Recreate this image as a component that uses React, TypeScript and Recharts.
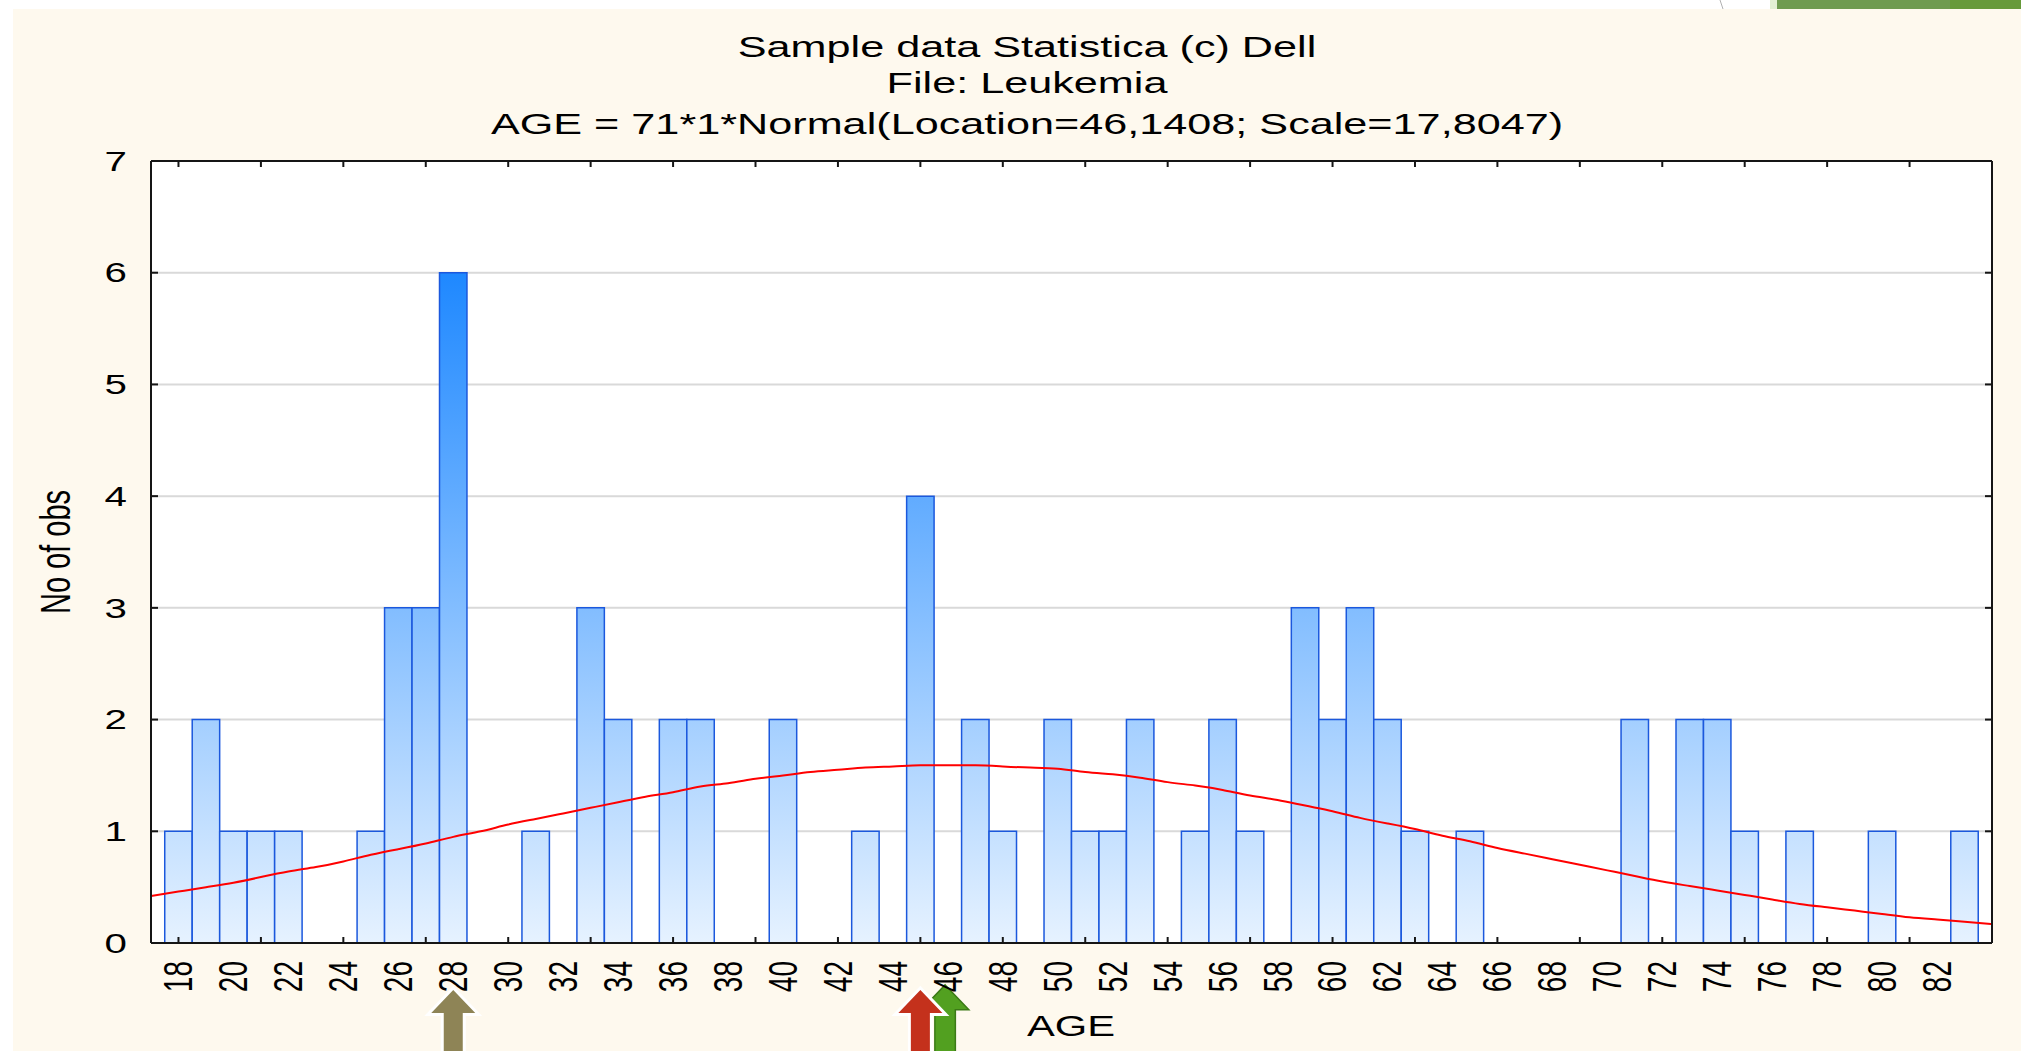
import React from 'react';
import { ComposedChart, Bar, Line, XAxis, YAxis, CartesianGrid, ReferenceDot } from 'recharts';

// ages 17..84 (one bin per year)
const AGES = [
  17, 18, 19, 20, 21, 22, 23, 24, 25, 26,
  27, 28, 29, 30, 31, 32, 33, 34, 35, 36,
  37, 38, 39, 40, 41, 42, 43, 44, 45, 46,
  47, 48, 49, 50, 51, 52, 53, 54, 55, 56,
  57, 58, 59, 60, 61, 62, 63, 64, 65, 66,
  67, 68, 69, 70, 71, 72, 73, 74, 75, 76,
  77, 78, 79, 80, 81, 82, 83, 84,
];

// No of obs per age
const COUNTS = [
  0, 1, 2, 1, 1, 1, 0, 0, 1, 3,
  3, 6, 0, 0, 1, 0, 3, 2, 0, 2,
  2, 0, 0, 2, 0, 0, 1, 0, 4, 0,
  2, 1, 0, 2, 1, 1, 2, 0, 1, 2,
  1, 0, 3, 2, 3, 2, 1, 0, 1, 0,
  0, 0, 0, 0, 2, 0, 2, 2, 1, 0,
  1, 0, 0, 1, 0, 0, 1, 0,
];

// red fitted normal curve
const FIT = [
  0.42, 0.46, 0.5, 0.54, 0.59, 0.64, 0.68, 0.73, 0.79, 0.84,
  0.89, 0.95, 1.0, 1.06, 1.11, 1.16, 1.21, 1.26, 1.31, 1.35,
  1.4, 1.43, 1.47, 1.5, 1.53, 1.55, 1.57, 1.58, 1.59, 1.59,
  1.59, 1.58, 1.57, 1.56, 1.53, 1.51, 1.48, 1.44, 1.41, 1.37,
  1.32, 1.28, 1.23, 1.18, 1.12, 1.07, 1.02, 0.96, 0.91, 0.85,
  0.8, 0.75, 0.7, 0.65, 0.6, 0.55, 0.51, 0.47, 0.43, 0.39,
  0.35, 0.32, 0.29, 0.26, 0.23, 0.21, 0.19, 0.17,
];

const LABEL_TICKS = [18, 20, 22, 24, 26, 28, 30, 32, 34, 36, 38, 40, 42, 44, 46, 48, 50, 52, 54, 56, 58, 60, 62, 64, 66, 68, 70, 72, 74, 76, 78, 80, 82];
const MARK_TICKS = [18, 21, 24, 27, 30, 33, 36, 39, 42, 45, 48, 51, 54, 57, 60, 63, 66, 69, 72, 75, 78, 81];
const Y_TICKS = [0, 1, 2, 3, 4, 5, 6, 7];

// slide arrows under the axis (mode, mean, median)
const MARKER_AGES = [28, 45.9, 45];
const MARKER_COLORS = ['#8E8456', '#52A020', '#C4311C'];
const MARKER_EDGES = ['#FFFFFF', '#3B7A16', '#FFFFFF'];

const TITLE_LINES = [
  'Sample data Statistica (c) Dell',
  'File: Leukemia',
  'AGE = 71*1*Normal(Location=46,1408; Scale=17,8047)',
];

const FONT = '"Liberation Sans", Arial, sans-serif';
const FRAME = '#151515';
const STRETCH = 1.44;

const data = AGES.map((age, i) => ({ age, count: COUNTS[i], fit: FIT[i] }));
const X_TICKS = Array.from(new Set([...LABEL_TICKS, ...MARK_TICKS])).sort((a, b) => a - b);

const BottomTick = (props: any) => {
  const { x, y, payload } = props;
  const v = payload.value;
  return (
    <g>
      {MARK_TICKS.includes(v) && <line x1={x} y1={y} x2={x} y2={y - 6} stroke={FRAME} strokeWidth={2} />}
      {LABEL_TICKS.includes(v) && (
        <text
          transform={`translate(${x},${y + 18}) rotate(-90) scale(1,${STRETCH})`}
          textAnchor="end"
          dominantBaseline="central"
          fontSize={28}
          fontFamily={FONT}
          fill="#000"
        >
          {v}
        </text>
      )}
    </g>
  );
};

const TopTick = (props: any) => {
  const { x, y } = props;
  return <line x1={x} y1={y} x2={x} y2={y + 6} stroke={FRAME} strokeWidth={2} />;
};

const LeftTick = (props: any) => {
  const { x, y, payload } = props;
  const v = payload.value;
  return (
    <g>
      {v > 0 && v < 7 && <line x1={x} y1={y} x2={x + 7} y2={y} stroke={FRAME} strokeWidth={2} />}
      <text
        transform={`translate(${x - 24},${y}) scale(${STRETCH},1)`}
        textAnchor="end"
        dominantBaseline="central"
        fontSize={28}
        fontFamily={FONT}
        fill="#000"
      >
        {v}
      </text>
    </g>
  );
};

const RightTick = (props: any) => {
  const { x, y, payload } = props;
  const v = payload.value;
  if (v <= 0 || v >= 7) return <g />;
  return <line x1={x} y1={y} x2={x - 7} y2={y} stroke={FRAME} strokeWidth={2} />;
};

const makeArrow = (fill: string, edge: string, lift: number) => (props: any) => {
  const { cx, cy } = props;
  const tip = cy + 47 - lift;
  const base = tip + 23;
  const hw = 22;
  const sw = 9.5;
  const pts = [
    [cx, tip],
    [cx + hw, base],
    [cx + sw, base],
    [cx + sw, cy + 140],
    [cx - sw, cy + 140],
    [cx - sw, base],
    [cx - hw, base],
  ]
    .map((p) => p.join(','))
    .join(' ');
  return (
    <polygon
      points={pts}
      fill={fill}
      stroke={edge}
      strokeWidth={edge === '#FFFFFF' ? 6 : 3}
      strokeLinejoin="miter"
      style={{ paintOrder: 'stroke' }}
    />
  );
};

export default function App() {
  return (
    <div style={{ position: 'absolute', left: 0, top: 0, width: 2021, height: 1051, overflow: 'hidden', background: '#fff' }}>
      <svg width={2021} height={1051} style={{ position: 'absolute', left: 0, top: 0 }}>
        <defs>
          <linearGradient id="barFill" gradientUnits="userSpaceOnUse" x1={0} y1={272} x2={0} y2={943}>
            <stop offset="0%" stopColor="#1E88FF" />
            <stop offset="100%" stopColor="#E6F2FF" />
          </linearGradient>
        </defs>
        <rect x={0} y={0} width={2021} height={1051} fill="#FFFFFF" />
        <rect x={13} y={9} width={2008} height={1042} fill="#FEF9EE" />
        <line x1={1720} y1={0} x2={1723} y2={9} stroke="#B0B0B0" strokeWidth={1} />
        <rect x={1770} y={0} width={8} height={9} fill="#E2EFD3" />
        <rect x={1777} y={0} width={174} height={9} fill="#6F9B50" />
        <rect x={1950} y={0} width={71} height={9} fill="#679A3A" />
      </svg>

      <div style={{ position: 'absolute', left: 0, top: 0 }}>
        <ComposedChart width={2021} height={1051} data={data} margin={{ top: 131, right: 0, bottom: 0, left: 0 }}>
          <CartesianGrid
            xAxisId="bottom"
            yAxisId="left"
            vertical={false}
            stroke="#D9D9D9"
            strokeWidth={2}
            fill="#FFFFFF"
            fillOpacity={1}
          />
          <XAxis
            xAxisId="bottom"
            dataKey="age"
            type="number"
            domain={[17, 84]}
            allowDataOverflow
            ticks={X_TICKS}
            interval={0}
            tickSize={0}
            tickMargin={0}
            tickLine={false}
            tick={<BottomTick />}
            height={108}
            axisLine={{ stroke: FRAME, strokeWidth: 2 }}
          />
          <XAxis
            xAxisId="top"
            orientation="top"
            dataKey="age"
            type="number"
            domain={[17, 84]}
            allowDataOverflow
            ticks={MARK_TICKS}
            interval={0}
            tickSize={0}
            tickMargin={0}
            tickLine={false}
            tick={<TopTick />}
            height={30}
            axisLine={{ stroke: FRAME, strokeWidth: 2 }}
          />
          <YAxis
            yAxisId="left"
            type="number"
            domain={[0, 7]}
            allowDataOverflow
            ticks={Y_TICKS}
            interval={0}
            tickSize={0}
            tickMargin={0}
            tickLine={false}
            tick={<LeftTick />}
            width={151}
            axisLine={{ stroke: FRAME, strokeWidth: 2 }}
          />
          <YAxis
            yAxisId="right"
            orientation="right"
            type="number"
            domain={[0, 7]}
            allowDataOverflow
            ticks={Y_TICKS}
            interval={0}
            tickSize={0}
            tickMargin={0}
            tickLine={false}
            tick={<RightTick />}
            width={29}
            axisLine={{ stroke: FRAME, strokeWidth: 2 }}
          />
          <Bar
            xAxisId="bottom"
            yAxisId="left"
            dataKey="count"
            fill="url(#barFill)"
            stroke="#1B58DD"
            strokeWidth={1.5}
            barSize={27.45}
            isAnimationActive={false}
          />
          <Line
            xAxisId="top"
            yAxisId="right"
            dataKey="fit"
            type="natural"
            stroke="#FF0000"
            strokeWidth={2}
            dot={false}
            activeDot={false}
            isAnimationActive={false}
          />
          {MARKER_AGES.map((age, i) => (
            <ReferenceDot
              key={`arrow-${i}`}
              xAxisId="bottom"
              yAxisId="left"
              x={age}
              y={0}
              r={1}
              ifOverflow="visible"
              shape={makeArrow(MARKER_COLORS[i], MARKER_EDGES[i], i === 1 ? 4 : 0)}
            />
          ))}
        </ComposedChart>
      </div>

      <svg width={2021} height={1051} style={{ position: 'absolute', left: 0, top: 0, pointerEvents: 'none' }}>
        {TITLE_LINES.map((line, i) => (
          <text
            key={line}
            transform={`translate(1027,${[57, 93, 134][i]}) scale(${STRETCH},1)`}
            textAnchor="middle"
            fontSize={30}
            fontFamily={FONT}
            fill="#000"
          >
            {line}
          </text>
        ))}
        <text
          transform={`translate(1071,1036) scale(${STRETCH},1)`}
          textAnchor="middle"
          fontSize={29}
          fontFamily={FONT}
          fill="#000"
        >
          AGE
        </text>
        <text
          transform={`translate(55,552) rotate(-90) scale(1,${STRETCH})`}
          textAnchor="middle"
          dominantBaseline="central"
          fontSize={29}
          fontFamily={FONT}
          fill="#000"
        >
          No of obs
        </text>
      </svg>
    </div>
  );
}
